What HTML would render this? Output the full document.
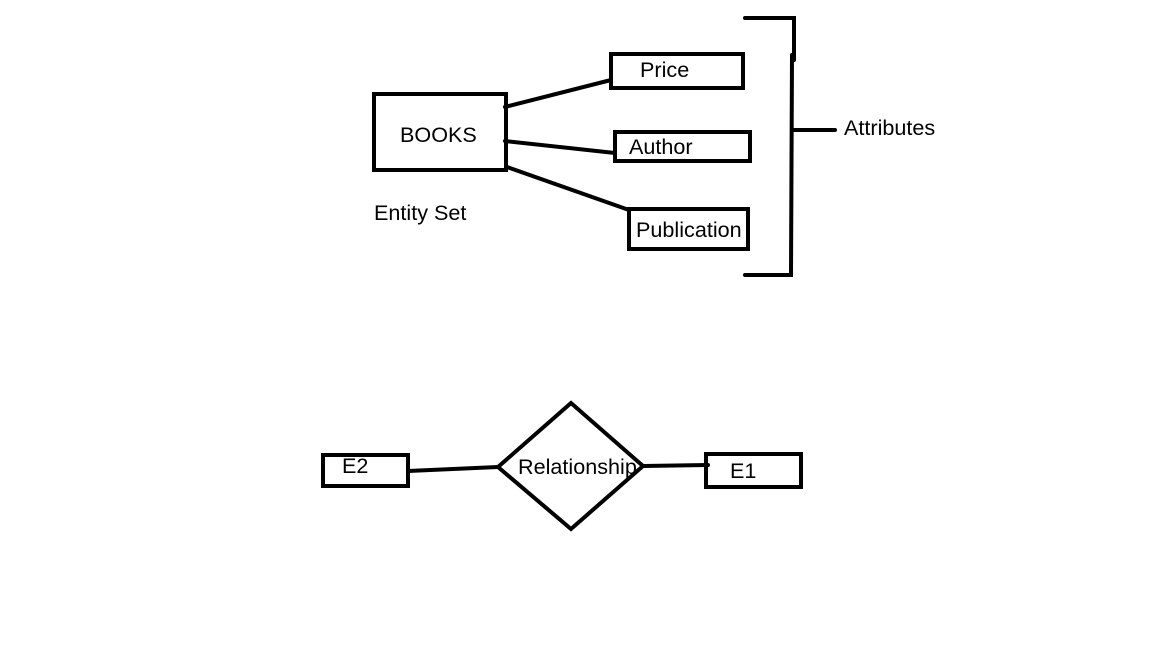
<!DOCTYPE html>
<html><head><meta charset="utf-8"><style>
html,body{margin:0;padding:0;background:#fff;}
svg{display:block;}
text{font-family:"Liberation Sans",Arial,sans-serif;font-size:21.6px;fill:#000;}
</style></head><body>
<svg width="1152" height="648" viewBox="0 0 1152 648" xmlns="http://www.w3.org/2000/svg">
<g fill="none" stroke="#000" stroke-width="4" stroke-linecap="round">
<rect x="374" y="94" width="132" height="76"/>
<rect x="611" y="54" width="132" height="34"/>
<rect x="615" y="132" width="135" height="29"/>
<rect x="629" y="209" width="119" height="40"/>
<line x1="505" y1="107" x2="611" y2="80"/>
<line x1="505" y1="141" x2="615" y2="153"/>
<line x1="507" y1="167" x2="629" y2="210"/>
<polyline points="745,18 794,18 794,60"/>
<polyline points="792,55 791,275 745,275"/>
<line x1="794" y1="130" x2="835" y2="130"/>
<polygon points="571,403 498,467 571,529 643,466"/>
<rect x="323" y="455" width="85" height="31"/>
<rect x="706" y="454" width="95" height="33"/>
<line x1="408" y1="471" x2="498" y2="467"/>
<line x1="643" y1="466" x2="708" y2="465"/>
</g>
<text x="400" y="142">BOOKS</text>
<text x="640" y="77">Price</text>
<text x="629" y="154">Author</text>
<text x="636" y="237">Publication</text>
<text x="844" y="135">Attributes</text>
<text x="374" y="220">Entity Set</text>
<text x="342" y="473">E2</text>
<text x="518" y="474">Relationship</text>
<text x="730" y="478">E1</text>
</svg>
</body></html>
